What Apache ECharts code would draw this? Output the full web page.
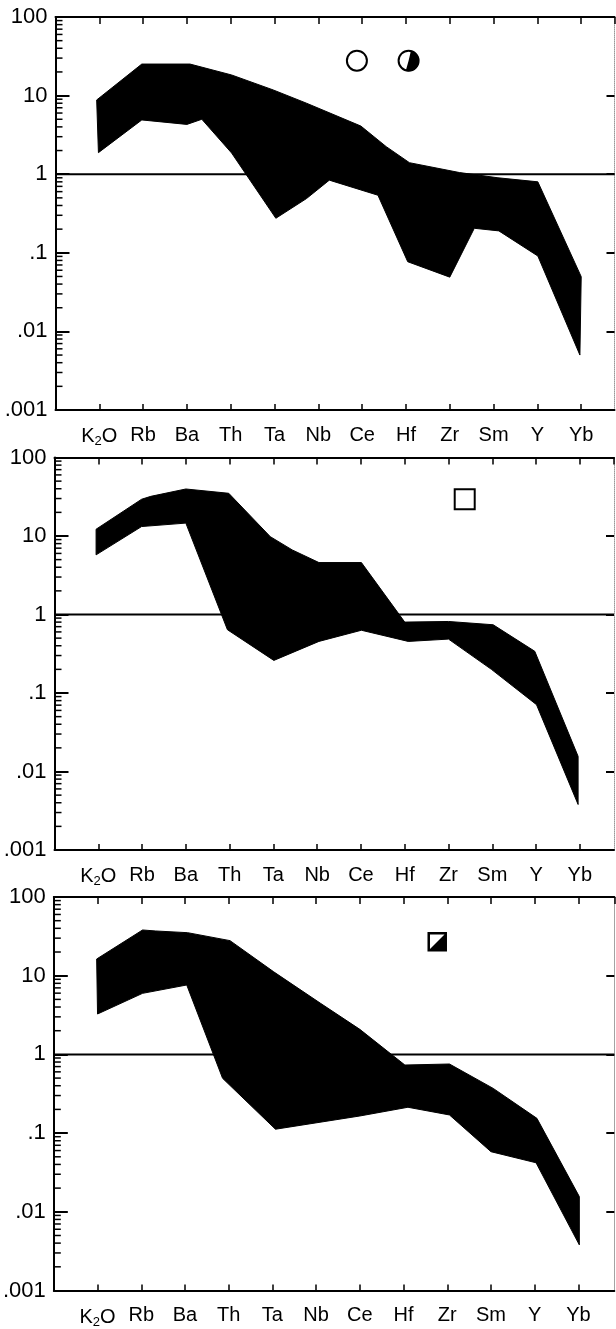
<!DOCTYPE html>
<html><head><meta charset="utf-8">
<script src="https://cdn.jsdelivr.net/npm/echarts@6/dist/echarts.min.js"></script>
<style>html,body{margin:0;padding:0;background:#fff}#c{width:616px;height:1329px}</style>
</head><body><div id="c"></div>
<script>
// ---- data ----
const categories = ['K2O', 'Rb', 'Ba', 'Th', 'Ta', 'Nb', 'Ce', 'Hf', 'Zr', 'Sm', 'Y', 'Yb'];
const yTickValues = [0.001, 0.01, 0.1, 1, 10, 100];
const yTickLabels = ['.001', '.01', '.1', '1', '10', '100'];
const minorMultipliers = [2, 3, 4, 5, 6, 7, 8, 9];
const referenceLevel = 1;

// envelope boundaries: [category position, normalised value]
const panel1Upper = [[-0.06, 8.8], [0.97, 25.2], [2.07, 25.2], [3.02, 18.3], [3.97, 11.8], [4.73, 8.0], [5.97, 4.1], [6.55, 2.24], [7.08, 1.4], [8.22, 1.05], [9.1, 0.9], [10.01, 0.8], [11.0, 0.0497]];
const panel1Lower = [[-0.02, 1.88], [0.97, 4.9], [2.0, 4.3], [2.34, 5.0], [3.02, 1.86], [4.03, 0.275], [4.73, 0.49], [5.25, 0.84], [6.36, 0.54], [7.04, 0.077], [8.0, 0.049], [8.56, 0.205], [9.12, 0.19], [10.01, 0.091], [10.97, 0.005]];

const panel2Upper = [[-0.05, 12.2], [0.99, 29.4], [1.2, 32], [2.0, 39.7], [2.98, 35], [3.93, 9.8], [4.43, 6.65], [5.04, 4.59], [6.01, 4.59], [7.0, 0.8], [8.0, 0.815], [9.02, 0.74], [9.97, 0.34], [10.96, 0.0156]];
const panel2Lower = [[-0.05, 5.75], [0.99, 13.2], [2.0, 14.6], [2.95, 0.64], [4.01, 0.26], [5.04, 0.454], [6.01, 0.63], [7.08, 0.454], [8.0, 0.486], [8.98, 0.2], [10.01, 0.071], [10.96, 0.0038]];

const panel3Upper = [[-0.02, 16.3], [1.03, 38.1], [1.33, 37], [2.06, 35.2], [3.03, 27.9], [4.03, 11.2], [5.1, 4.46], [6.0, 2.08], [7.03, 0.733], [8.05, 0.755], [9.05, 0.37], [10.05, 0.154], [11.02, 0.0156]];
const panel3Lower = [[0.0, 3.26], [1.03, 5.97], [2.04, 7.62], [2.86, 0.497], [4.07, 0.112], [6.0, 0.165], [7.1, 0.213], [8.05, 0.17], [9.0, 0.058], [10.03, 0.042], [11.02, 0.0038]];

// sample-type symbols drawn in each panel: [position, value]
const panel1SymbolPos = [[5.88, 27.8], [7.06, 27.8]];
const panel1SymbolKind = ['circle', 'halfCircle'];
const panel2SymbolPos = [[8.37, 29.4]];
const panel2SymbolKind = ['square'];
const panel3SymbolPos = [[7.77, 27]];
const panel3SymbolKind = ['halfSquare'];

// ---- layout ----
const panels = [
  { upper: panel1Upper, lower: panel1Lower, symPos: panel1SymbolPos, symKind: panel1SymbolKind,
    grid: { left: 55.5, top: 17, width: 559, height: 393 }, xMax: 11.76 },
  { upper: panel2Upper, lower: panel2Lower, symPos: panel2SymbolPos, symKind: panel2SymbolKind,
    grid: { left: 54.5, top: 457.5, width: 559.5, height: 392.5 }, xMax: 11.78 },
  { upper: panel3Upper, lower: panel3Lower, symPos: panel3SymbolPos, symKind: panel3SymbolKind,
    grid: { left: 52.9, top: 897, width: 561.4, height: 393.5 }, xMax: 11.82 }
];
const X_MIN = -1;
const FONT = 'Liberation Sans';

function catLabel(v) {
  const r = Math.round(v);
  if (Math.abs(v - r) > 1e-6 || r < 0 || r >= categories.length) return '';
  return '{n|' + categories[r].replace(/(\d)/g, '}{s|$1}{n|') + '}';
}
function yLabel(v) {
  const k = yTickValues.findIndex(t => Math.abs(Math.log10(t) - Math.log10(v)) < 1e-6);
  return k >= 0 ? yTickLabels[k] : '';
}

const grid = [], xAxis = [], yAxis = [], series = [];
panels.forEach((p, k) => {
  grid.push(Object.assign({ containLabel: false }, p.grid));
  const xb = xAxis.length;
  xAxis.push({
    gridIndex: k, type: 'value', position: 'bottom', min: X_MIN, max: p.xMax, interval: 1,
    axisLine: { onZero: false, lineStyle: { color: '#000', width: 2 } },
    axisTick: { inside: true, length: 6, lineStyle: { color: '#000', width: 1.5 } },
    splitLine: { show: false },
    axisLabel: {
      margin: 15, formatter: catLabel, color: '#000', showMinLabel: false, showMaxLabel: false,
      rich: {
        n: { fontFamily: FONT, fontSize: 20, color: '#000' },
        s: { fontFamily: FONT, fontSize: 13, color: '#000', padding: [10, 0, 0, 0] }
      }
    }
  });
  xAxis.push({
    gridIndex: k, type: 'value', position: 'top', min: X_MIN, max: p.xMax, interval: 1,
    axisLine: { onZero: false, lineStyle: { color: '#000', width: 2 } },
    axisTick: { inside: true, length: 7, lineStyle: { color: '#000', width: 1.5 } },
    splitLine: { show: false }, axisLabel: { show: false }
  });
  const yl = yAxis.length;
  yAxis.push({
    gridIndex: k, type: 'log', logBase: 10, min: 0.001, max: 100, position: 'left', splitNumber: 5,
    axisLine: { onZero: false, lineStyle: { color: '#000', width: 2 } },
    axisTick: { inside: true, length: 14, lineStyle: { color: '#000', width: 2 } },
    splitLine: { show: false },
    axisLabel: { margin: 8, formatter: yLabel, color: '#000', fontFamily: FONT, fontSize: 22 }
  });
  yAxis.push({
    gridIndex: k, type: 'log', logBase: 10, min: 0.001, max: 100, position: 'right', splitNumber: 5,
    axisLine: { onZero: false, lineStyle: { color: '#999', width: 1, type: 'dotted' } },
    axisTick: { inside: true, length: 8, lineStyle: { color: '#000', width: 2 } },
    splitLine: { show: false }, axisLabel: { show: false }
  });

  const polygon = p.upper.concat(p.lower.slice().reverse());
  series.push({
    type: 'custom', xAxisIndex: xb, yAxisIndex: yl, silent: true, animation: false, z: 2,
    data: [polygon[0]],
    renderItem: (params, api) => ({
      type: 'polygon',
      shape: { points: polygon.map(pt => api.coord(pt)) },
      style: { fill: '#000', stroke: '#000', lineWidth: 1 }
    })
  });
  series.push({
    type: 'line', xAxisIndex: xb, yAxisIndex: yl, silent: true, animation: false, z: 3,
    symbol: 'none', data: [[X_MIN, referenceLevel], [p.xMax, referenceLevel]],
    lineStyle: { color: '#000', width: 2 }
  });
  // minor log ticks on the left axis
  series.push({
    type: 'custom', xAxisIndex: xb, yAxisIndex: yl, silent: true, animation: false, z: 4,
    data: [[X_MIN, 1]],
    renderItem: (params, api) => {
      const children = [];
      for (let d = -3; d < 2; d++) {
        minorMultipliers.forEach(m => {
          const c = api.coord([X_MIN, m * Math.pow(10, d)]);
          children.push({ type: 'line', shape: { x1: c[0], y1: c[1], x2: c[0] + 7, y2: c[1] },
            style: { stroke: '#000', lineWidth: 1.5 } });
        });
      }
      return { type: 'group', children };
    }
  });
  // sample symbols
  series.push({
    type: 'custom', xAxisIndex: xb, yAxisIndex: yl, silent: true, animation: false, z: 5,
    data: p.symPos,
    renderItem: (params, api) => {
      const kind = p.symKind[params.dataIndex];
      const c = api.coord(p.symPos[params.dataIndex]);
      const cx = c[0], cy = c[1];
      if (kind === 'circle') {
        return { type: 'circle', shape: { cx, cy, r: 10 }, style: { fill: '#fff', stroke: '#000', lineWidth: 2 } };
      }
      if (kind === 'halfCircle') {
        return { type: 'group', children: [
          { type: 'circle', shape: { cx, cy, r: 10 }, style: { fill: '#fff', stroke: '#000', lineWidth: 2 } },
          { type: 'sector', shape: { cx, cy, r0: 0, r: 10.5, startAngle: -1.339, endAngle: 1.845, clockwise: true }, style: { fill: '#000' } }
        ] };
      }
      if (kind === 'square') {
        return { type: 'rect', shape: { x: cx - 10, y: cy - 10, width: 20, height: 20 }, style: { fill: '#fff', stroke: '#000', lineWidth: 2 } };
      }
      const h = 8.5;
      return { type: 'group', children: [
        { type: 'rect', shape: { x: cx - h, y: cy - h, width: 2 * h, height: 2 * h }, style: { fill: '#fff', stroke: '#000', lineWidth: 2.5 } },
        { type: 'polygon', shape: { points: [[cx - h, cy + h], [cx + h, cy - h], [cx + h, cy + h]] }, style: { fill: '#000' } }
      ] };
    }
  });
});

const chart = echarts.init(document.getElementById('c'), null, { renderer: 'canvas' });
chart.setOption({ backgroundColor: '#fff', animation: false, grid, xAxis, yAxis, series });
</script>
</body></html>
